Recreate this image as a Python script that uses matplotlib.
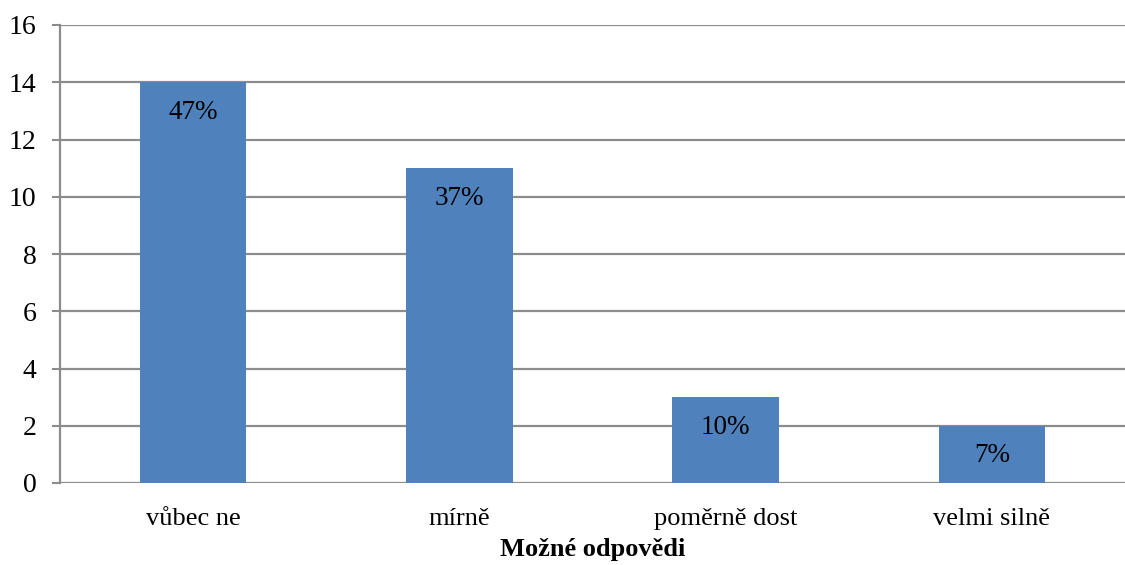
import matplotlib
matplotlib.use("Agg")
import matplotlib.pyplot as plt

categories = ["vůbec ne", "mírně", "poměrně dost", "velmi silně"]
counts = [14, 11, 3, 2]
percent_labels = ["47%", "37%", "10%", "7%"]
y_ticks = [0, 2, 4, 6, 8, 10, 12, 14, 16]
x_title = "Možné odpovědi"

plt.rcParams["font.family"] = ["Liberation Serif", "DejaVu Serif"]

fig = plt.figure(figsize=(11.25, 5.65), dpi=100)
ax = fig.add_axes([60 / 1125, 82 / 565, 1 - 60 / 1125, (483 - 25) / 565])

grid_color = "#8c8c8c"
x = range(len(categories))
bars = ax.bar(x, counts, width=0.40, color="#4f81bd", zorder=3)

ax.set_xlim(-0.5, len(categories) - 0.5)
ax.set_ylim(0, 16)
ax.set_yticks(y_ticks)
ax.set_yticklabels([str(v) for v in y_ticks], fontsize=20)
ax.set_xticks(list(x))
ax.set_xticklabels(categories, fontsize=19)
ax.tick_params(axis="x", length=0, pad=18)
ax.tick_params(axis="y", length=6, width=1.5, color=grid_color, pad=11)

ax.yaxis.grid(True, color=grid_color, linewidth=1.6, zorder=0)
for side in ("top", "right", "bottom"):
    ax.spines[side].set_visible(False)
ax.spines["left"].set_color(grid_color)
ax.spines["left"].set_linewidth(1.6)

for bar, label in zip(bars, percent_labels):
    ax.annotate(label, (bar.get_x() + bar.get_width() / 2, bar.get_height()),
                xytext=(0, -30), textcoords="offset pixels",
                ha="center", va="center", fontsize=19.5, color="black", zorder=4)

ax.set_xlabel(x_title, fontsize=19, fontweight="bold", labelpad=6)

fig.savefig("out.png", dpi=100)
